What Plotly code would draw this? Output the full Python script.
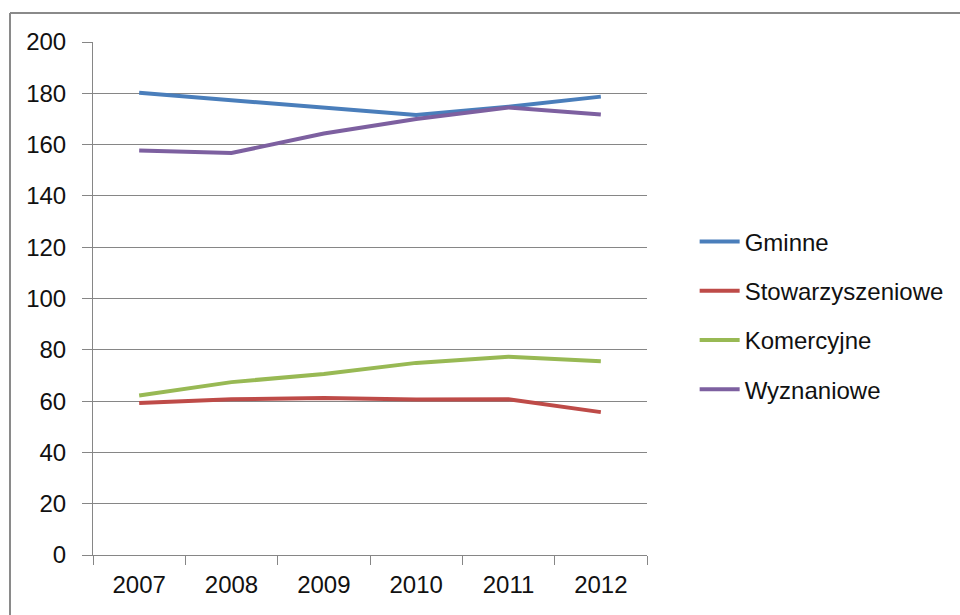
"""Line chart: number of entities by type, 2007-2012."""

import plotly.graph_objects as go

years = ["2007", "2008", "2009", "2010", "2011", "2012"]
gminne = [180.2, 177.4, 174.4, 171.5, 174.8, 178.7]
stowarzyszeniowe = [59.3, 60.7, 61.2, 60.6, 60.7, 55.7]
komercyjne = [62.2, 67.4, 70.6, 74.9, 77.3, 75.5]
wyznaniowe = [157.7, 156.7, 164.3, 170.0, 174.5, 171.7]

series = [
    ("Gminne", gminne, "#4A7EBB"),
    ("Stowarzyszeniowe", stowarzyszeniowe, "#BE4B48"),
    ("Komercyjne", komercyjne, "#98B954"),
    ("Wyznaniowe", wyznaniowe, "#7D60A0"),
]

FONT = "Liberation Sans"

fig = go.Figure()
for name, values, color in series:
    fig.add_trace(go.Scatter(
        x=years, y=values,
        mode="lines", name=name,
        line=dict(color=color, width=4),
        legendgroup=name,
    ))

# chart frame: only its top and left edges fall inside the picture
frame_left = (10 - 93) / 554
frame_top = (555 - 13) / 513
frame = dict(color="#8A8A8A", width=2)
fig.add_shape(type="line", xref="paper", yref="paper",
              x0=frame_left, x1=1.6, y0=frame_top, y1=frame_top, line=frame)
fig.add_shape(type="line", xref="paper", yref="paper",
              x0=frame_left, x1=frame_left, y0=-0.2, y1=frame_top, line=frame)

fig.update_layout(
    width=960, height=615,
    margin=dict(l=93, r=313, t=42, b=60, autoexpand=False),
    paper_bgcolor="white", plot_bgcolor="white",
    font=dict(family=FONT, size=24, color="#111111"),
    showlegend=True,
    legend=dict(
        x=1.086, y=0.467, xanchor="left", yanchor="middle",
        traceorder="grouped", tracegroupgap=15,
        font=dict(family=FONT, size=24),
        itemwidth=40,
    ),
    xaxis=dict(
        type="category", range=[-0.5, 5.5], automargin=False,
        showline=True, linecolor="#868686", linewidth=1,
        ticks="outside", tickson="boundaries", ticklen=9,
        tickcolor="#868686", ticklabelstandoff=8,
        showgrid=False,
    ),
    yaxis=dict(
        range=[0, 200], dtick=20, automargin=False,
        showline=True, linecolor="#868686", linewidth=1,
        ticks="outside", ticklen=10, tickcolor="#868686",
        ticklabelstandoff=11,
        showgrid=True, gridcolor="#868686", gridwidth=1,
        zeroline=False,
    ),
)

# drop the browser's default page margin so the figure fills the window
fig.write_html(
    "out.html",
    config={"displayModeBar": False},
    post_script="document.body.style.margin='0';"
                "document.body.style.overflow='hidden';",
)
